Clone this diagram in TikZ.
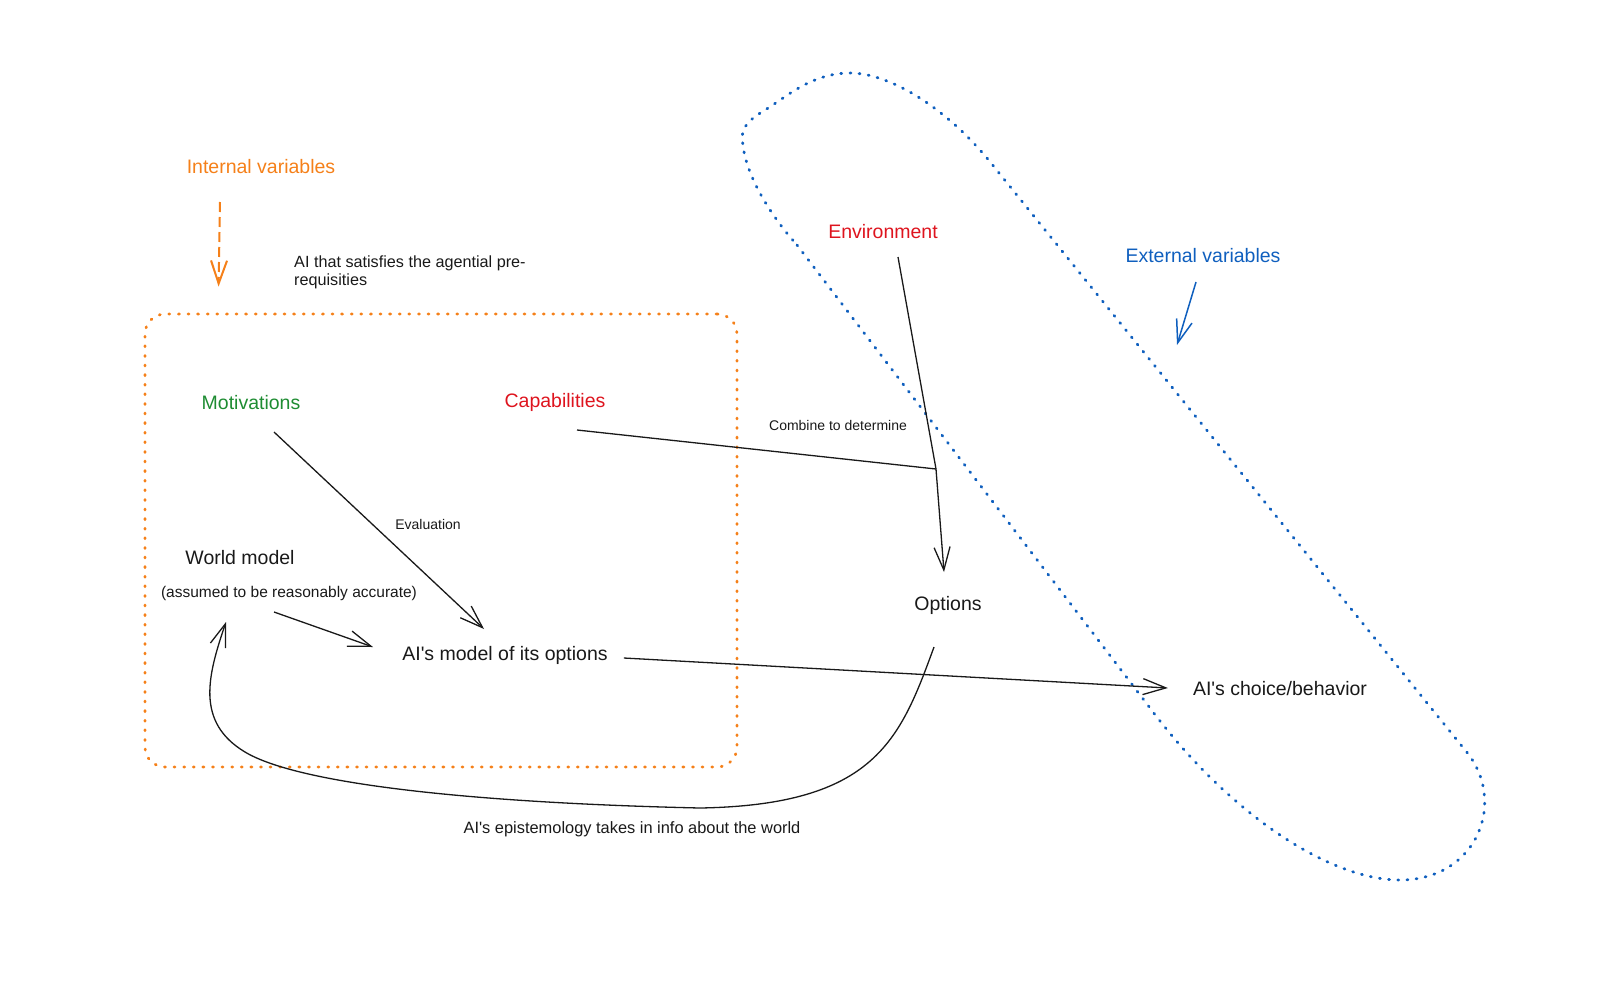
\documentclass[tikz,border=0pt]{standalone}
\usepackage{fontspec}
\setmainfont{Liberation Sans}
\usepackage{xcolor}
\usetikzlibrary{arrows.meta}

\definecolor{intorange}{RGB}{245,128,25}
\definecolor{capred}{RGB}{222,20,30}
\definecolor{motgreen}{RGB}{30,140,50}
\definecolor{extblue}{RGB}{15,95,190}
\definecolor{inkblack}{RGB}{25,25,25}

\newcommand{\aiq}{AI\textquotesingle s}

\begin{document}
\begin{tikzpicture}[x=1pt,y=-1pt,>={Straight Barb[length=23pt,width=16pt]}]

% Stili per testi e linee
\tikzset{
  biglabel/.style={font=\fontsize{19.5}{23}\selectfont, inner sep=0pt, text=inkblack},
  midlabel/.style={font=\fontsize{15.5}{18}\selectfont, inner sep=0pt, text=inkblack},
  smalllabel/.style={font=\fontsize{14}{17}\selectfont, inner sep=0pt, text=inkblack},
  conn/.style={draw=inkblack, line width=1.3pt},
  orangedots/.style={draw=intorange, line width=2.8pt, line cap=round, dash pattern=on 1pt off 8.6pt},
  bluedots/.style={draw=extblue, line width=2.8pt, line cap=round, dash pattern=on 1pt off 8.2pt}
}

\useasboundingbox (0,0) rectangle (1600,980);

% --- Riquadro arancione: variabili interne ---
\node[orangedots, rounded corners=20pt, minimum width=592pt, minimum height=453pt, inner sep=0pt] (agentbox) at (441,540.5) {};

\node[biglabel, text=intorange] (intvar) at (261,167) {Internal variables};
\node[midlabel, font=\fontsize{16.2}{18}\selectfont, align=left, anchor=west] (agentnote) at (294,272) {AI that satisfies the agential pre-\\requisities};

\node[biglabel, text=motgreen] (motiv) at (251,403) {Motivations};
\node[biglabel, text=capred] (capab) at (555,402) {Capabilities};
\node[biglabel] (worldmodel) at (240,558) {World model};
\node[midlabel] (assumed) at (289,593) {(assumed to be reasonably accurate)};
\node[biglabel] (aimodel) at (505,655) {\aiq{} model of its options};
\node[smalllabel] (evalnote) at (428,524) {Evaluation};

% --- Parte destra: variabili esterne ---
\node[biglabel, text=capred] (env) at (883,232) {Environment};
\node[smalllabel] (combine) at (838,425) {Combine to determine};
\node[biglabel] (options) at (948,605) {Options};
\node[biglabel, text=extblue] (extvar) at (1203,256) {External variables};
\node[biglabel] (choice) at (1280,689) {\aiq{} choice/behavior};
\node[midlabel, font=\fontsize{16.4}{19}\selectfont] (epinote) at (632,829) {\aiq{} epistemology takes in info about the world};

\coordinate (junction) at (936,469);
\coordinate (extin) at (1177,345);

% Contorno blu punteggiato
\draw[bluedots] (797,245) -- (1150,708)
  .. controls (1230,815) and (1330,880) .. (1400,880)
  .. controls (1478,880) and (1508,800) .. (1465,750)
  -- (995,168)
  .. controls (950,110) and (890,72) .. (848,73)
  .. controls (810,74) and (785,98) .. (765,110)
  .. controls (745,122) and (740,130) .. (743,145)
  .. controls (746,175) and (770,215) .. (797,245);

% Frecce delle variabili
\draw[intorange, line width=2pt, dash pattern=on 10pt off 5pt, ->] ([shift={(-41,35)}]intvar.center) -- ([shift={(75,-26)}]agentbox.north west);
\draw[extblue, line width=1.5pt, ->] ([shift={(-7,26)}]extvar.center) -- (extin);

% Frecce interne
\draw[conn, ->] ([shift={(23,29)}]motiv.center) -- ([shift={(-21,-26)}]aimodel.center);
\draw[conn, ->] ([shift={(-15,19)}]assumed.center) -- ([shift={(-132,-8)}]aimodel.center);

% Combinazione verso le opzioni
\draw[conn] ([shift={(22,28)}]capab.center) -- (junction);
\draw[conn] ([shift={(15,25)}]env.center) -- (junction);
\draw[conn, ->] (junction) -- ([shift={(-4,-33)}]options.center);

% Scelta e ritorno al modello del mondo
\draw[conn, ->] ([shift={(16,3)}]aimodel.east) -- ([shift={(-25,-1)}]choice.west);
\draw[conn, ->] ([shift={(-14,42)}]options.center) .. controls (900,740) and (875,805) .. (700,808)
  .. controls (480,803) and (300,785) .. (245,752)
  .. controls (195,722) and (208,675) .. ([shift={(-14,64)}]worldmodel.center);
\end{tikzpicture}
\end{document}
